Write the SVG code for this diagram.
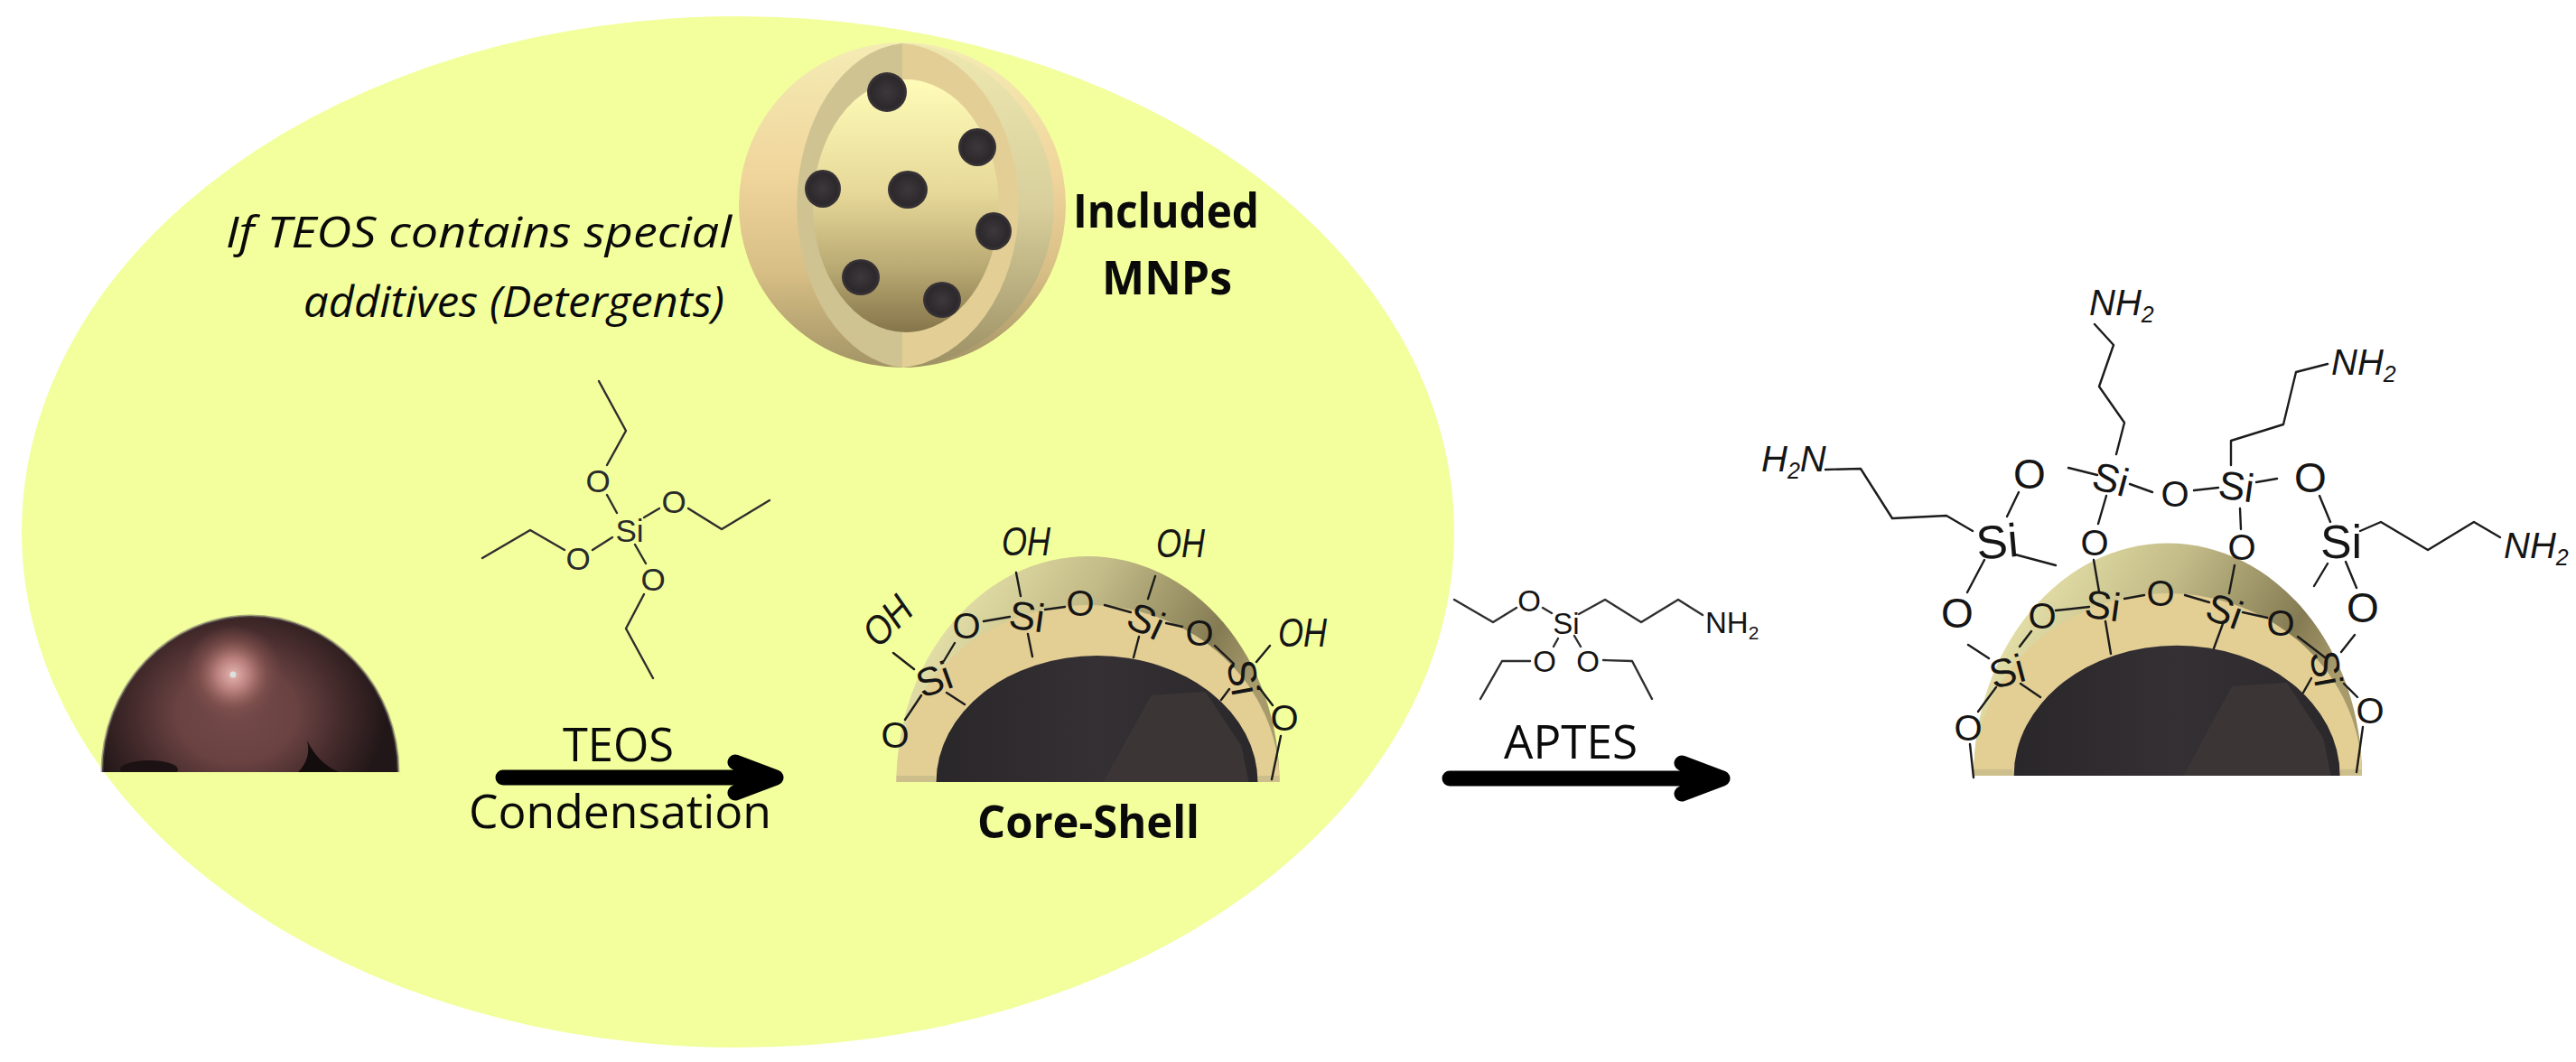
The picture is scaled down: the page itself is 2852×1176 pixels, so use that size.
<svg xmlns="http://www.w3.org/2000/svg" width="2852" height="1176" viewBox="0 0 2852 1176">
<style>
.b{fill:none;stroke:#1c1c1c;stroke-width:2.4;stroke-linecap:round;stroke-linejoin:round}
.bt{fill:none;stroke:#2e2e2e;stroke-width:2.4;stroke-linecap:round;stroke-linejoin:round}
.l{font-family:"Open Sans","Noto Sans",sans-serif;fill:#0a0a0a}
.lb{font-weight:700}
.it{font-style:italic}
.c{font-family:"Liberation Sans",Arial,sans-serif;fill:#151515;text-anchor:middle}
.ci{font-style:italic}
.o{font-size:40px}.O{font-size:46px}.s{font-size:44px}.S{font-size:52px}.m{font-size:35px;fill:#2a2a2a}
.sh{fill:none;stroke:#000;stroke-linecap:round;stroke-linejoin:round;stroke-width:17}
</style>
<defs>
<radialGradient id="gBall" gradientUnits="userSpaceOnUse" cx="0" cy="0" r="1" gradientTransform="translate(262 790) scale(165 135)">
<stop offset="0" stop-color="#744a49"/><stop offset=".4" stop-color="#6a4242"/><stop offset=".72" stop-color="#42292a"/><stop offset="1" stop-color="#221718"/>
</radialGradient>
<radialGradient id="gGlow" gradientUnits="userSpaceOnUse" cx="258" cy="747" r="55">
<stop offset="0" stop-color="#e6b4ae"/><stop offset=".35" stop-color="#b57c79"/><stop offset=".7" stop-color="#83534f" stop-opacity=".6"/><stop offset="1" stop-color="#744a49" stop-opacity="0"/>
</radialGradient>
<linearGradient id="gShell" x1="0" y1="0" x2="1" y2=".35">
<stop offset="0" stop-color="#f8f6bb"/><stop offset=".5" stop-color="#c3bb88"/><stop offset=".85" stop-color="#857b53"/><stop offset="1" stop-color="#a79b6c"/>
</linearGradient>
<linearGradient id="gOuter" x1="0" y1="0" x2="0" y2="1">
<stop offset="0" stop-color="#f4ecb4"/><stop offset=".4" stop-color="#f0d59c"/><stop offset=".7" stop-color="#d8bf85"/><stop offset="1" stop-color="#a39466"/>
</linearGradient>
<linearGradient id="gOuterR" x1="0" y1="0" x2="0" y2="1">
<stop offset="0" stop-color="#eee8b0"/><stop offset=".5" stop-color="#d8cf9c"/><stop offset="1" stop-color="#9c9064"/>
</linearGradient>
<linearGradient id="gInner" x1="0" y1="0" x2="0" y2="1">
<stop offset="0" stop-color="#fffcb8"/><stop offset=".45" stop-color="#e6d898"/><stop offset=".75" stop-color="#b8a872"/><stop offset="1" stop-color="#85754a"/>
</linearGradient>
<radialGradient id="gMnp"><stop offset="0" stop-color="#3d383b"/><stop offset=".8" stop-color="#2c282b"/><stop offset="1" stop-color="#3a3639"/></radialGradient>
<linearGradient id="gCore" x1="0" y1="0" x2="1" y2="0">
<stop offset="0" stop-color="#2a272b"/><stop offset=".5" stop-color="#343034"/><stop offset="1" stop-color="#2b282b"/>
</linearGradient>
<clipPath id="cCore"><path d="M-168 0A178 140 0 0 1 188 0Z"/></clipPath>
<clipPath id="cBall"><path d="M113 855A164 173 0 0 1 441 855Z"/></clipPath>
<g id="shell">
<path d="M-212 0A212 250 0 0 1 212 0Z" fill="url(#gShell)"/>
<path d="M-212 0A212 196 0 0 1 212 0Z" fill="#e3ce94"/>
<rect x="-212" y="-7" width="43" height="7" fill="#cdbf8c"/>
<rect x="188" y="-7" width="24" height="7" fill="#cdbf8c"/>
<path d="M-168 0A178 140 0 0 1 188 0Z" fill="url(#gCore)"/>
<path d="M70 -96L130 -100L170 -40L178 0L17 0Z" fill="#3b3635" clip-path="url(#cCore)"/>
</g>
</defs>
<rect width="2852" height="1176" fill="#fff"/>
<g id="background-region"><ellipse cx="817" cy="589" rx="793" ry="571" fill="#f2ff9c"/></g>

<g id="node-magnetic-core">
<path d="M113 855A164 173 0 0 1 441 855Z" fill="url(#gBall)"/>
<circle cx="258" cy="747" r="55" fill="url(#gGlow)"/>
<circle cx="258" cy="747" r="3.5" fill="#d8e0e0"/>
<g clip-path="url(#cBall)">
<ellipse cx="165" cy="852" rx="32" ry="10" fill="#1c1213"/>
<path d="M340 820Q352 845 375 855H330Q345 840 340 820Z" fill="#140d0d"/>
</g>
<path d="M113 855A164 173 0 0 1 441 855" fill="none" stroke="#6a6062" stroke-width="3" opacity=".55"/>
</g>

<g id="node-included-mnps">
<ellipse cx="999" cy="227" rx="181" ry="180" fill="url(#gOuter)"/>
<path d="M1003 48A177 180 0 0 1 1003 407Z" fill="url(#gOuterR)"/>
<path d="M999 48A126 180 0 0 0 999 407Z" fill="#cfc391"/>
<path d="M999 48A139 180 0 0 1 999 407Z" fill="#e3cf95"/>
<ellipse cx="1003" cy="228" rx="103" ry="140" fill="url(#gInner)"/>
<g fill="url(#gMnp)">
<ellipse cx="982" cy="102" rx="22" ry="22"/><ellipse cx="1082" cy="163" rx="21" ry="21"/><ellipse cx="911" cy="209" rx="20" ry="21"/><ellipse cx="1005" cy="210" rx="22" ry="21"/><ellipse cx="1100" cy="256" rx="20" ry="21"/><ellipse cx="953" cy="307" rx="21" ry="20"/><ellipse cx="1043" cy="332" rx="21" ry="20"/>
</g>
<text class="l lb" x="1188" y="252" font-size="52" textLength="206" lengthAdjust="spacingAndGlyphs">Included</text>
<text class="l lb" x="1220" y="326" font-size="52" textLength="144" lengthAdjust="spacingAndGlyphs">MNPs</text>
</g>

<g id="note-detergents">
<text class="l it" x="250" y="274" font-size="47" textLength="560" lengthAdjust="spacingAndGlyphs">If TEOS contains special</text>
<text class="l it" x="336" y="351" font-size="47" textLength="466" lengthAdjust="spacingAndGlyphs">additives (Detergents)</text>
</g>

<g id="node-teos-molecule">
<path class="bt" d="M663 422L693 477L672 515M672 548L683 568M713 573L730 563M762 563L799 586L852 554M678 595L656 609M625 609L587 587L534 618M703 603L715 624M713 658L693 696L723 751"/>
<g class="c m">
<text transform="translate(697 587)" dy=".36em">Si</text>
<text transform="translate(662 532)" dy=".36em">O</text>
<text transform="translate(746 555)" dy=".36em">O</text>
<text transform="translate(640 618)" dy=".36em">O</text>
<text transform="translate(723 641)" dy=".36em">O</text>
</g>
</g>

<g id="node-core-shell">
<use href="#shell" transform="translate(1204.5 866)"/>
<path class="b" d="M989 723L1012 741M1057 712L1045 732M1048 767L1068 780M1020 770L1002 797M1089 688L1118 683M1125 634L1130 660M1138 702L1143 727M1157 675L1179 672M1223 670L1252 678M1279 638L1271 663M1261 705L1255 728M1291 690L1309 694M1345 715L1366 735M1406 715L1391 733M1361 763L1352 775M1393 760L1409 781M1418 815L1408 863"/>
<g class="c s">
<text transform="translate(1034 752) rotate(-20)" dy=".36em">Si</text>
<text transform="translate(1137 682) rotate(8)" dy=".36em">Si</text>
<text transform="translate(1269 687) rotate(25)" dy=".36em">Si</text>
<text transform="translate(1377 750) rotate(80)" dy=".36em">Si</text>
</g>
<g class="c o">
<text transform="translate(1070 693)" dy=".36em">O</text>
<text transform="translate(991 814)" dy=".36em">O</text>
<text transform="translate(1196 668)" dy=".36em">O</text>
<text transform="translate(1328 701)" dy=".36em">O</text>
<text transform="translate(1422 795)" dy=".36em">O</text>
</g>
<g class="c ci" font-size="44">
<text transform="translate(982 687) rotate(-45)" dy=".36em" textLength="58" lengthAdjust="spacingAndGlyphs">OH</text>
<text transform="translate(1136 599)" dy=".36em" textLength="54" lengthAdjust="spacingAndGlyphs">OH</text>
<text transform="translate(1307 601)" dy=".36em" textLength="54" lengthAdjust="spacingAndGlyphs">OH</text>
<text transform="translate(1442 700)" dy=".36em" textLength="54" lengthAdjust="spacingAndGlyphs">OH</text>
</g>
<text class="l lb" x="1082" y="928" font-size="50" textLength="246" lengthAdjust="spacingAndGlyphs">Core-Shell</text>
</g>

<g id="node-aptes-molecule">
<path class="bt" d="M1610 664L1653 689L1679 673M1708 673L1718 679M1748 680L1777 664L1817 689L1858 664L1885 681M1725 707L1720 716M1743 704L1750 716M1694 732L1663 732L1639 774M1775 731L1807 732L1829 774"/>
<g class="c" font-size="33" fill="#2a2a2a">
<text transform="translate(1734 690)" dy=".36em">Si</text>
<text transform="translate(1693 665)" dy=".36em">O</text>
<text transform="translate(1710 732)" dy=".36em">O</text>
<text transform="translate(1758 732)" dy=".36em">O</text>
<text x="1888" y="701" style="text-anchor:start">NH<tspan font-size="21" dy="7">2</tspan></text>
</g>
</g>

<g id="node-functionalized">
<use href="#shell" transform="translate(2400 859) scale(1.014 1.03)"/>
<path class="b" d="M2319 359L2340 382L2324 428L2352 468L2343 503M2290 518L2322 526M2358 536L2383 545M2429 543L2456 540M2498 534L2521 530M2470 515L2470 488L2528 470L2542 412L2577 403M2235 545L2222 572M2021 520L2060 519L2095 574L2155 571L2184 588M2231 614L2276 626M2197 620L2178 656M2179 714L2202 729M2332 549L2323 580M2318 620L2324 655M2480 563L2481 586M2474 626L2468 657M2568 549L2580 578M2613 588L2636 578L2688 609L2739 578L2768 595M2577 624L2562 649M2597 622L2609 651M2607 703L2592 722M2249 699L2236 716M2276 676L2313 672M2352 663L2374 659M2419 659L2446 667M2483 678L2510 684M2544 705L2574 728M2595 757L2610 772M2616 805L2609 855M2210 761L2190 788M2181 824L2185 861M2237 757L2259 772M2331 688L2337 724M2462 688L2451 718M2559 751L2550 767"/>
<g class="c S">
<text transform="translate(2211 599) rotate(-5)" dy=".36em">Si</text>
<text transform="translate(2592 599)" dy=".36em">Si</text>
</g>
<g class="c s">
<text transform="translate(2337 530) rotate(15)" dy=".36em">Si</text>
<text transform="translate(2476 538) rotate(8)" dy=".36em">Si</text>
<text transform="translate(2328 670) rotate(8)" dy=".36em">Si</text>
<text transform="translate(2463 676) rotate(20)" dy=".36em">Si</text>
<text transform="translate(2222 743) rotate(-15)" dy=".36em">Si</text>
<text transform="translate(2576 740) rotate(80)" dy=".36em">Si</text>
</g>
<g class="c O">
<text transform="translate(2247 524)" dy=".36em">O</text>
<text transform="translate(2558 528)" dy=".36em">O</text>
<text transform="translate(2167 678)" dy=".36em">O</text>
<text transform="translate(2616 672)" dy=".36em">O</text>
</g>
<g class="c o">
<text transform="translate(2408 547)" dy=".36em">O</text>
<text transform="translate(2319 601)" dy=".36em">O</text>
<text transform="translate(2482 606)" dy=".36em">O</text>
<text transform="translate(2261 682)" dy=".36em">O</text>
<text transform="translate(2392 657)" dy=".36em">O</text>
<text transform="translate(2525 690)" dy=".36em">O</text>
<text transform="translate(2624 787)" dy=".36em">O</text>
<text transform="translate(2179 806)" dy=".36em">O</text>
</g>
<g class="c ci" font-size="40">
<text x="2313" y="349" style="text-anchor:start">NH<tspan font-size="25" dy="8">2</tspan></text>
<text x="2581" y="415" style="text-anchor:start">NH<tspan font-size="25" dy="8">2</tspan></text>
<text x="2772" y="618" style="text-anchor:start">NH<tspan font-size="25" dy="8">2</tspan></text>
<text x="1950" y="522" style="text-anchor:start">H<tspan font-size="25" dy="8">2</tspan><tspan dy="-8">N</tspan></text>
</g>
</g>

<g id="connectors">
<path class="sh" d="M557 861H858M814 844L859 861L814 878"/>
<path class="sh" d="M1605 862H1907M1862 845L1907 862L1862 879"/>
</g>
<g id="connector-labels">
<text class="l" x="623" y="843" font-size="52" textLength="123" lengthAdjust="spacingAndGlyphs">TEOS</text>
<text class="l" x="519" y="917" font-size="52" textLength="335" lengthAdjust="spacingAndGlyphs">Condensation</text>
<text class="l" x="1665" y="840" font-size="52" textLength="148" lengthAdjust="spacingAndGlyphs">APTES</text>
</g>
</svg>
